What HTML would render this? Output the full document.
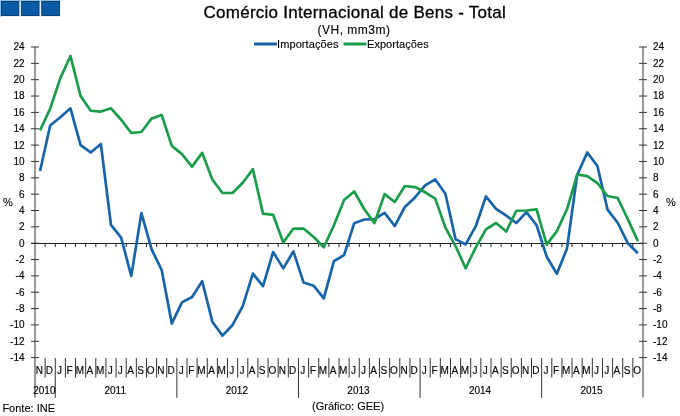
<!DOCTYPE html>
<html><head><meta charset="utf-8">
<style>
html,body{margin:0;padding:0;background:#fff;}
body{width:680px;height:416px;overflow:hidden;position:relative;}
svg{position:absolute;left:0;top:0;will-change:transform;}
text{font-family:"Liberation Sans",sans-serif;fill:#000;stroke:#000;stroke-width:0.12px;}
.ax{font-size:10px;stroke:#000;stroke-width:0.15px;}
.tk{stroke:#333;stroke-width:1;}
.sep{stroke:#333;stroke-width:1;}
.zt{stroke:#222;stroke-width:1;}
</style></head><body>
<svg width="680" height="416" viewBox="0 0 680 416">
<rect x="0" y="0" width="60.5" height="16.8" fill="#dcedf9"/>
<rect x="0" y="0" width="60.5" height="1.2" fill="#8fbfe8"/>
<rect x="0" y="0" width="1.1" height="16.8" fill="#8fbfe8"/>
<rect x="1.5" y="1.5" width="17.3" height="14" fill="#0a5ba6" stroke="#08406f" stroke-width="1"/>
<rect x="21.6" y="1.5" width="17.4" height="14" fill="#0a5ba6" stroke="#08406f" stroke-width="1"/>
<rect x="41.8" y="1.5" width="17.6" height="14" fill="#0a5ba6" stroke="#08406f" stroke-width="1"/>
<text x="203.5" y="17.6" style="font-size:17px;letter-spacing:0.26px;stroke:#000;stroke-width:0.3px">Comércio Internacional de Bens - Total</text>
<text x="317.5" y="33.9" style="font-size:12px;letter-spacing:0.5px">(VH, mm3m)</text>
<line x1="254" y1="44" x2="277" y2="44" stroke="#1764a9" stroke-width="3"/>
<text x="277" y="48" style="font-size:11px;letter-spacing:0.1px">Importações</text>
<line x1="343.5" y1="44" x2="366.5" y2="44" stroke="#1a9c4a" stroke-width="3"/>
<text x="367" y="48" style="font-size:11px;letter-spacing:0.05px">Exportações</text>
<text x="3" y="206" style="font-size:11px">%</text>
<text x="666" y="206" style="font-size:11px">%</text>
<line x1="35" y1="47" x2="35" y2="397.5" stroke="#999" stroke-width="2"/>
<line x1="643" y1="47" x2="643" y2="397.5" stroke="#999" stroke-width="2"/>
<line x1="31" y1="243.5" x2="643" y2="243.5" stroke="#222" stroke-width="1"/>
<line x1="31" y1="47.00" x2="39" y2="47.00" class="tk"/>
<line x1="639" y1="47.00" x2="647" y2="47.00" class="tk"/>
<text x="24.5" y="50.40" text-anchor="end" class="ax">24</text>
<text x="653" y="50.40" class="ax">24</text>
<line x1="31" y1="63.35" x2="39" y2="63.35" class="tk"/>
<line x1="639" y1="63.35" x2="647" y2="63.35" class="tk"/>
<text x="24.5" y="66.75" text-anchor="end" class="ax">22</text>
<text x="653" y="66.75" class="ax">22</text>
<line x1="31" y1="79.70" x2="39" y2="79.70" class="tk"/>
<line x1="639" y1="79.70" x2="647" y2="79.70" class="tk"/>
<text x="24.5" y="83.10" text-anchor="end" class="ax">20</text>
<text x="653" y="83.10" class="ax">20</text>
<line x1="31" y1="96.05" x2="39" y2="96.05" class="tk"/>
<line x1="639" y1="96.05" x2="647" y2="96.05" class="tk"/>
<text x="24.5" y="99.45" text-anchor="end" class="ax">18</text>
<text x="653" y="99.45" class="ax">18</text>
<line x1="31" y1="112.40" x2="39" y2="112.40" class="tk"/>
<line x1="639" y1="112.40" x2="647" y2="112.40" class="tk"/>
<text x="24.5" y="115.80" text-anchor="end" class="ax">16</text>
<text x="653" y="115.80" class="ax">16</text>
<line x1="31" y1="128.75" x2="39" y2="128.75" class="tk"/>
<line x1="639" y1="128.75" x2="647" y2="128.75" class="tk"/>
<text x="24.5" y="132.15" text-anchor="end" class="ax">14</text>
<text x="653" y="132.15" class="ax">14</text>
<line x1="31" y1="145.10" x2="39" y2="145.10" class="tk"/>
<line x1="639" y1="145.10" x2="647" y2="145.10" class="tk"/>
<text x="24.5" y="148.50" text-anchor="end" class="ax">12</text>
<text x="653" y="148.50" class="ax">12</text>
<line x1="31" y1="161.45" x2="39" y2="161.45" class="tk"/>
<line x1="639" y1="161.45" x2="647" y2="161.45" class="tk"/>
<text x="24.5" y="164.85" text-anchor="end" class="ax">10</text>
<text x="653" y="164.85" class="ax">10</text>
<line x1="31" y1="177.80" x2="39" y2="177.80" class="tk"/>
<line x1="639" y1="177.80" x2="647" y2="177.80" class="tk"/>
<text x="24.5" y="181.20" text-anchor="end" class="ax">8</text>
<text x="653" y="181.20" class="ax">8</text>
<line x1="31" y1="194.15" x2="39" y2="194.15" class="tk"/>
<line x1="639" y1="194.15" x2="647" y2="194.15" class="tk"/>
<text x="24.5" y="197.55" text-anchor="end" class="ax">6</text>
<text x="653" y="197.55" class="ax">6</text>
<line x1="31" y1="210.50" x2="39" y2="210.50" class="tk"/>
<line x1="639" y1="210.50" x2="647" y2="210.50" class="tk"/>
<text x="24.5" y="213.90" text-anchor="end" class="ax">4</text>
<text x="653" y="213.90" class="ax">4</text>
<line x1="31" y1="226.85" x2="39" y2="226.85" class="tk"/>
<line x1="639" y1="226.85" x2="647" y2="226.85" class="tk"/>
<text x="24.5" y="230.25" text-anchor="end" class="ax">2</text>
<text x="653" y="230.25" class="ax">2</text>
<line x1="31" y1="243.20" x2="39" y2="243.20" class="tk"/>
<line x1="639" y1="243.20" x2="647" y2="243.20" class="tk"/>
<text x="24.5" y="246.60" text-anchor="end" class="ax">0</text>
<text x="653" y="246.60" class="ax">0</text>
<line x1="31" y1="259.55" x2="39" y2="259.55" class="tk"/>
<line x1="639" y1="259.55" x2="647" y2="259.55" class="tk"/>
<text x="24.5" y="262.95" text-anchor="end" class="ax">-2</text>
<text x="653" y="262.95" class="ax">-2</text>
<line x1="31" y1="275.90" x2="39" y2="275.90" class="tk"/>
<line x1="639" y1="275.90" x2="647" y2="275.90" class="tk"/>
<text x="24.5" y="279.30" text-anchor="end" class="ax">-4</text>
<text x="653" y="279.30" class="ax">-4</text>
<line x1="31" y1="292.25" x2="39" y2="292.25" class="tk"/>
<line x1="639" y1="292.25" x2="647" y2="292.25" class="tk"/>
<text x="24.5" y="295.65" text-anchor="end" class="ax">-6</text>
<text x="653" y="295.65" class="ax">-6</text>
<line x1="31" y1="308.60" x2="39" y2="308.60" class="tk"/>
<line x1="639" y1="308.60" x2="647" y2="308.60" class="tk"/>
<text x="24.5" y="312.00" text-anchor="end" class="ax">-8</text>
<text x="653" y="312.00" class="ax">-8</text>
<line x1="31" y1="324.95" x2="39" y2="324.95" class="tk"/>
<line x1="639" y1="324.95" x2="647" y2="324.95" class="tk"/>
<text x="24.5" y="328.35" text-anchor="end" class="ax">-10</text>
<text x="653" y="328.35" class="ax">-10</text>
<line x1="31" y1="341.30" x2="39" y2="341.30" class="tk"/>
<line x1="639" y1="341.30" x2="647" y2="341.30" class="tk"/>
<text x="24.5" y="344.70" text-anchor="end" class="ax">-12</text>
<text x="653" y="344.70" class="ax">-12</text>
<line x1="31" y1="357.65" x2="39" y2="357.65" class="tk"/>
<line x1="639" y1="357.65" x2="647" y2="357.65" class="tk"/>
<text x="24.5" y="361.05" text-anchor="end" class="ax">-14</text>
<text x="653" y="361.05" class="ax">-14</text>
<line x1="45.13" y1="358" x2="45.13" y2="377.5" class="sep"/>
<line x1="45.13" y1="243.5" x2="45.13" y2="247" class="zt"/>
<line x1="55.27" y1="358" x2="55.27" y2="397.8" class="sep"/>
<line x1="55.27" y1="243.5" x2="55.27" y2="247" class="zt"/>
<line x1="65.40" y1="358" x2="65.40" y2="377.5" class="sep"/>
<line x1="65.40" y1="243.5" x2="65.40" y2="247" class="zt"/>
<line x1="75.53" y1="358" x2="75.53" y2="377.5" class="sep"/>
<line x1="75.53" y1="243.5" x2="75.53" y2="247" class="zt"/>
<line x1="85.67" y1="358" x2="85.67" y2="377.5" class="sep"/>
<line x1="85.67" y1="243.5" x2="85.67" y2="247" class="zt"/>
<line x1="95.80" y1="358" x2="95.80" y2="377.5" class="sep"/>
<line x1="95.80" y1="243.5" x2="95.80" y2="247" class="zt"/>
<line x1="105.93" y1="358" x2="105.93" y2="377.5" class="sep"/>
<line x1="105.93" y1="243.5" x2="105.93" y2="247" class="zt"/>
<line x1="116.07" y1="358" x2="116.07" y2="377.5" class="sep"/>
<line x1="116.07" y1="243.5" x2="116.07" y2="247" class="zt"/>
<line x1="126.20" y1="358" x2="126.20" y2="377.5" class="sep"/>
<line x1="126.20" y1="243.5" x2="126.20" y2="247" class="zt"/>
<line x1="136.33" y1="358" x2="136.33" y2="377.5" class="sep"/>
<line x1="136.33" y1="243.5" x2="136.33" y2="247" class="zt"/>
<line x1="146.47" y1="358" x2="146.47" y2="377.5" class="sep"/>
<line x1="146.47" y1="243.5" x2="146.47" y2="247" class="zt"/>
<line x1="156.60" y1="358" x2="156.60" y2="377.5" class="sep"/>
<line x1="156.60" y1="243.5" x2="156.60" y2="247" class="zt"/>
<line x1="166.73" y1="358" x2="166.73" y2="377.5" class="sep"/>
<line x1="166.73" y1="243.5" x2="166.73" y2="247" class="zt"/>
<line x1="176.87" y1="358" x2="176.87" y2="397.8" class="sep"/>
<line x1="176.87" y1="243.5" x2="176.87" y2="247" class="zt"/>
<line x1="187.00" y1="358" x2="187.00" y2="377.5" class="sep"/>
<line x1="187.00" y1="243.5" x2="187.00" y2="247" class="zt"/>
<line x1="197.13" y1="358" x2="197.13" y2="377.5" class="sep"/>
<line x1="197.13" y1="243.5" x2="197.13" y2="247" class="zt"/>
<line x1="207.27" y1="358" x2="207.27" y2="377.5" class="sep"/>
<line x1="207.27" y1="243.5" x2="207.27" y2="247" class="zt"/>
<line x1="217.40" y1="358" x2="217.40" y2="377.5" class="sep"/>
<line x1="217.40" y1="243.5" x2="217.40" y2="247" class="zt"/>
<line x1="227.53" y1="358" x2="227.53" y2="377.5" class="sep"/>
<line x1="227.53" y1="243.5" x2="227.53" y2="247" class="zt"/>
<line x1="237.67" y1="358" x2="237.67" y2="377.5" class="sep"/>
<line x1="237.67" y1="243.5" x2="237.67" y2="247" class="zt"/>
<line x1="247.80" y1="358" x2="247.80" y2="377.5" class="sep"/>
<line x1="247.80" y1="243.5" x2="247.80" y2="247" class="zt"/>
<line x1="257.93" y1="358" x2="257.93" y2="377.5" class="sep"/>
<line x1="257.93" y1="243.5" x2="257.93" y2="247" class="zt"/>
<line x1="268.07" y1="358" x2="268.07" y2="377.5" class="sep"/>
<line x1="268.07" y1="243.5" x2="268.07" y2="247" class="zt"/>
<line x1="278.20" y1="358" x2="278.20" y2="377.5" class="sep"/>
<line x1="278.20" y1="243.5" x2="278.20" y2="247" class="zt"/>
<line x1="288.33" y1="358" x2="288.33" y2="377.5" class="sep"/>
<line x1="288.33" y1="243.5" x2="288.33" y2="247" class="zt"/>
<line x1="298.47" y1="358" x2="298.47" y2="397.8" class="sep"/>
<line x1="298.47" y1="243.5" x2="298.47" y2="247" class="zt"/>
<line x1="308.60" y1="358" x2="308.60" y2="377.5" class="sep"/>
<line x1="308.60" y1="243.5" x2="308.60" y2="247" class="zt"/>
<line x1="318.73" y1="358" x2="318.73" y2="377.5" class="sep"/>
<line x1="318.73" y1="243.5" x2="318.73" y2="247" class="zt"/>
<line x1="328.87" y1="358" x2="328.87" y2="377.5" class="sep"/>
<line x1="328.87" y1="243.5" x2="328.87" y2="247" class="zt"/>
<line x1="339.00" y1="358" x2="339.00" y2="377.5" class="sep"/>
<line x1="339.00" y1="243.5" x2="339.00" y2="247" class="zt"/>
<line x1="349.13" y1="358" x2="349.13" y2="377.5" class="sep"/>
<line x1="349.13" y1="243.5" x2="349.13" y2="247" class="zt"/>
<line x1="359.27" y1="358" x2="359.27" y2="377.5" class="sep"/>
<line x1="359.27" y1="243.5" x2="359.27" y2="247" class="zt"/>
<line x1="369.40" y1="358" x2="369.40" y2="377.5" class="sep"/>
<line x1="369.40" y1="243.5" x2="369.40" y2="247" class="zt"/>
<line x1="379.53" y1="358" x2="379.53" y2="377.5" class="sep"/>
<line x1="379.53" y1="243.5" x2="379.53" y2="247" class="zt"/>
<line x1="389.67" y1="358" x2="389.67" y2="377.5" class="sep"/>
<line x1="389.67" y1="243.5" x2="389.67" y2="247" class="zt"/>
<line x1="399.80" y1="358" x2="399.80" y2="377.5" class="sep"/>
<line x1="399.80" y1="243.5" x2="399.80" y2="247" class="zt"/>
<line x1="409.93" y1="358" x2="409.93" y2="377.5" class="sep"/>
<line x1="409.93" y1="243.5" x2="409.93" y2="247" class="zt"/>
<line x1="420.07" y1="358" x2="420.07" y2="397.8" class="sep"/>
<line x1="420.07" y1="243.5" x2="420.07" y2="247" class="zt"/>
<line x1="430.20" y1="358" x2="430.20" y2="377.5" class="sep"/>
<line x1="430.20" y1="243.5" x2="430.20" y2="247" class="zt"/>
<line x1="440.33" y1="358" x2="440.33" y2="377.5" class="sep"/>
<line x1="440.33" y1="243.5" x2="440.33" y2="247" class="zt"/>
<line x1="450.47" y1="358" x2="450.47" y2="377.5" class="sep"/>
<line x1="450.47" y1="243.5" x2="450.47" y2="247" class="zt"/>
<line x1="460.60" y1="358" x2="460.60" y2="377.5" class="sep"/>
<line x1="460.60" y1="243.5" x2="460.60" y2="247" class="zt"/>
<line x1="470.73" y1="358" x2="470.73" y2="377.5" class="sep"/>
<line x1="470.73" y1="243.5" x2="470.73" y2="247" class="zt"/>
<line x1="480.87" y1="358" x2="480.87" y2="377.5" class="sep"/>
<line x1="480.87" y1="243.5" x2="480.87" y2="247" class="zt"/>
<line x1="491.00" y1="358" x2="491.00" y2="377.5" class="sep"/>
<line x1="491.00" y1="243.5" x2="491.00" y2="247" class="zt"/>
<line x1="501.13" y1="358" x2="501.13" y2="377.5" class="sep"/>
<line x1="501.13" y1="243.5" x2="501.13" y2="247" class="zt"/>
<line x1="511.27" y1="358" x2="511.27" y2="377.5" class="sep"/>
<line x1="511.27" y1="243.5" x2="511.27" y2="247" class="zt"/>
<line x1="521.40" y1="358" x2="521.40" y2="377.5" class="sep"/>
<line x1="521.40" y1="243.5" x2="521.40" y2="247" class="zt"/>
<line x1="531.53" y1="358" x2="531.53" y2="377.5" class="sep"/>
<line x1="531.53" y1="243.5" x2="531.53" y2="247" class="zt"/>
<line x1="541.67" y1="358" x2="541.67" y2="397.8" class="sep"/>
<line x1="541.67" y1="243.5" x2="541.67" y2="247" class="zt"/>
<line x1="551.80" y1="358" x2="551.80" y2="377.5" class="sep"/>
<line x1="551.80" y1="243.5" x2="551.80" y2="247" class="zt"/>
<line x1="561.93" y1="358" x2="561.93" y2="377.5" class="sep"/>
<line x1="561.93" y1="243.5" x2="561.93" y2="247" class="zt"/>
<line x1="572.07" y1="358" x2="572.07" y2="377.5" class="sep"/>
<line x1="572.07" y1="243.5" x2="572.07" y2="247" class="zt"/>
<line x1="582.20" y1="358" x2="582.20" y2="377.5" class="sep"/>
<line x1="582.20" y1="243.5" x2="582.20" y2="247" class="zt"/>
<line x1="592.33" y1="358" x2="592.33" y2="377.5" class="sep"/>
<line x1="592.33" y1="243.5" x2="592.33" y2="247" class="zt"/>
<line x1="602.47" y1="358" x2="602.47" y2="377.5" class="sep"/>
<line x1="602.47" y1="243.5" x2="602.47" y2="247" class="zt"/>
<line x1="612.60" y1="358" x2="612.60" y2="377.5" class="sep"/>
<line x1="612.60" y1="243.5" x2="612.60" y2="247" class="zt"/>
<line x1="622.73" y1="358" x2="622.73" y2="377.5" class="sep"/>
<line x1="622.73" y1="243.5" x2="622.73" y2="247" class="zt"/>
<line x1="632.87" y1="358" x2="632.87" y2="377.5" class="sep"/>
<line x1="632.87" y1="243.5" x2="632.87" y2="247" class="zt"/>
<text x="39.27" y="373.5" text-anchor="middle" class="ax">N</text>
<text x="49.40" y="373.5" text-anchor="middle" class="ax">D</text>
<text x="59.53" y="373.5" text-anchor="middle" class="ax">J</text>
<text x="69.67" y="373.5" text-anchor="middle" class="ax">F</text>
<text x="79.80" y="373.5" text-anchor="middle" class="ax">M</text>
<text x="89.93" y="373.5" text-anchor="middle" class="ax">A</text>
<text x="100.07" y="373.5" text-anchor="middle" class="ax">M</text>
<text x="110.20" y="373.5" text-anchor="middle" class="ax">J</text>
<text x="120.33" y="373.5" text-anchor="middle" class="ax">J</text>
<text x="130.47" y="373.5" text-anchor="middle" class="ax">A</text>
<text x="140.60" y="373.5" text-anchor="middle" class="ax">S</text>
<text x="150.73" y="373.5" text-anchor="middle" class="ax">O</text>
<text x="160.87" y="373.5" text-anchor="middle" class="ax">N</text>
<text x="171.00" y="373.5" text-anchor="middle" class="ax">D</text>
<text x="181.13" y="373.5" text-anchor="middle" class="ax">J</text>
<text x="191.27" y="373.5" text-anchor="middle" class="ax">F</text>
<text x="201.40" y="373.5" text-anchor="middle" class="ax">M</text>
<text x="211.53" y="373.5" text-anchor="middle" class="ax">A</text>
<text x="221.67" y="373.5" text-anchor="middle" class="ax">M</text>
<text x="231.80" y="373.5" text-anchor="middle" class="ax">J</text>
<text x="241.93" y="373.5" text-anchor="middle" class="ax">J</text>
<text x="252.07" y="373.5" text-anchor="middle" class="ax">A</text>
<text x="262.20" y="373.5" text-anchor="middle" class="ax">S</text>
<text x="272.33" y="373.5" text-anchor="middle" class="ax">O</text>
<text x="282.47" y="373.5" text-anchor="middle" class="ax">N</text>
<text x="292.60" y="373.5" text-anchor="middle" class="ax">D</text>
<text x="302.73" y="373.5" text-anchor="middle" class="ax">J</text>
<text x="312.87" y="373.5" text-anchor="middle" class="ax">F</text>
<text x="323.00" y="373.5" text-anchor="middle" class="ax">M</text>
<text x="333.13" y="373.5" text-anchor="middle" class="ax">A</text>
<text x="343.27" y="373.5" text-anchor="middle" class="ax">M</text>
<text x="353.40" y="373.5" text-anchor="middle" class="ax">J</text>
<text x="363.53" y="373.5" text-anchor="middle" class="ax">J</text>
<text x="373.67" y="373.5" text-anchor="middle" class="ax">A</text>
<text x="383.80" y="373.5" text-anchor="middle" class="ax">S</text>
<text x="393.93" y="373.5" text-anchor="middle" class="ax">O</text>
<text x="404.07" y="373.5" text-anchor="middle" class="ax">N</text>
<text x="414.20" y="373.5" text-anchor="middle" class="ax">D</text>
<text x="424.33" y="373.5" text-anchor="middle" class="ax">J</text>
<text x="434.47" y="373.5" text-anchor="middle" class="ax">F</text>
<text x="444.60" y="373.5" text-anchor="middle" class="ax">M</text>
<text x="454.73" y="373.5" text-anchor="middle" class="ax">A</text>
<text x="464.87" y="373.5" text-anchor="middle" class="ax">M</text>
<text x="475.00" y="373.5" text-anchor="middle" class="ax">J</text>
<text x="485.13" y="373.5" text-anchor="middle" class="ax">J</text>
<text x="495.27" y="373.5" text-anchor="middle" class="ax">A</text>
<text x="505.40" y="373.5" text-anchor="middle" class="ax">S</text>
<text x="515.53" y="373.5" text-anchor="middle" class="ax">O</text>
<text x="525.67" y="373.5" text-anchor="middle" class="ax">N</text>
<text x="535.80" y="373.5" text-anchor="middle" class="ax">D</text>
<text x="545.93" y="373.5" text-anchor="middle" class="ax">J</text>
<text x="556.07" y="373.5" text-anchor="middle" class="ax">F</text>
<text x="566.20" y="373.5" text-anchor="middle" class="ax">M</text>
<text x="576.33" y="373.5" text-anchor="middle" class="ax">A</text>
<text x="586.47" y="373.5" text-anchor="middle" class="ax">M</text>
<text x="596.60" y="373.5" text-anchor="middle" class="ax">J</text>
<text x="606.73" y="373.5" text-anchor="middle" class="ax">J</text>
<text x="616.87" y="373.5" text-anchor="middle" class="ax">A</text>
<text x="627.00" y="373.5" text-anchor="middle" class="ax">S</text>
<text x="637.13" y="373.5" text-anchor="middle" class="ax">O</text>
<text x="44.33" y="393.5" text-anchor="middle" class="ax">2010</text>
<text x="115.27" y="393.5" text-anchor="middle" class="ax">2011</text>
<text x="236.87" y="393.5" text-anchor="middle" class="ax">2012</text>
<text x="358.47" y="393.5" text-anchor="middle" class="ax">2013</text>
<text x="480.07" y="393.5" text-anchor="middle" class="ax">2014</text>
<text x="591.53" y="393.5" text-anchor="middle" class="ax">2015</text>
<polyline points="40.07,171.01 50.20,125.48 60.33,117.31 70.47,108.31 80.60,145.10 90.73,152.46 100.87,144.04 111.00,224.97 121.13,237.56 131.27,275.90 141.40,213.12 151.53,249.17 161.67,270.01 171.80,323.56 181.93,302.39 192.07,296.99 202.20,281.21 212.33,321.68 222.47,335.58 232.60,324.95 242.73,306.15 252.87,273.61 263.00,286.20 273.13,252.03 283.27,268.38 293.40,251.38 303.53,282.44 313.67,285.71 323.80,298.38 333.93,261.19 344.07,255.05 354.20,223.17 364.33,219.49 374.47,219.08 384.60,212.95 394.73,226.03 404.87,206.98 415.00,197.42 425.13,185.40 435.27,179.44 445.40,193.74 455.53,239.11 465.67,244.43 475.80,226.20 485.93,196.44 496.07,208.87 506.20,215.65 516.33,223.01 526.47,212.14 536.60,225.22 546.73,256.69 556.87,273.69 567.00,248.51 577.13,175.02 587.27,152.46 597.40,166.03 607.53,209.68 617.67,222.76 627.80,243.20 637.93,253.17" fill="none" stroke="#1764a9" stroke-width="2.7" stroke-linejoin="round"/>
<polyline points="40.07,130.38 50.20,108.56 60.33,78.07 70.47,55.99 80.60,96.05 90.73,110.77 100.87,111.58 111.00,108.31 121.13,119.76 131.27,133.00 141.40,132.02 151.53,118.61 161.67,115.02 171.80,145.92 181.93,154.09 192.07,166.60 202.20,152.87 212.33,179.44 222.47,193.01 232.60,193.01 242.73,182.71 252.87,169.22 263.00,213.61 273.13,214.83 283.27,242.55 293.40,228.57 303.53,228.57 313.67,236.99 323.80,247.29 333.93,225.22 344.07,200.04 354.20,191.45 364.33,209.27 374.47,223.17 384.60,194.15 394.73,202.00 404.87,185.98 415.00,187.04 425.13,192.27 435.27,198.65 445.40,227.67 455.53,246.06 465.67,268.22 475.80,247.29 485.93,229.30 496.07,223.01 506.20,231.51 516.33,210.75 526.47,210.50 536.60,209.44 546.73,244.67 556.87,231.10 567.00,209.27 577.13,174.53 587.27,176.17 597.40,183.03 607.53,196.03 617.67,197.99 627.80,219.17 637.93,241.24" fill="none" stroke="#1a9c4a" stroke-width="2.7" stroke-linejoin="round"/>
<text x="2.4" y="411.5" style="font-size:11px">Fonte: INE</text>
<text x="312" y="410" style="font-size:11px">(Gráfico: GEE)</text>
</svg>
</body></html>
